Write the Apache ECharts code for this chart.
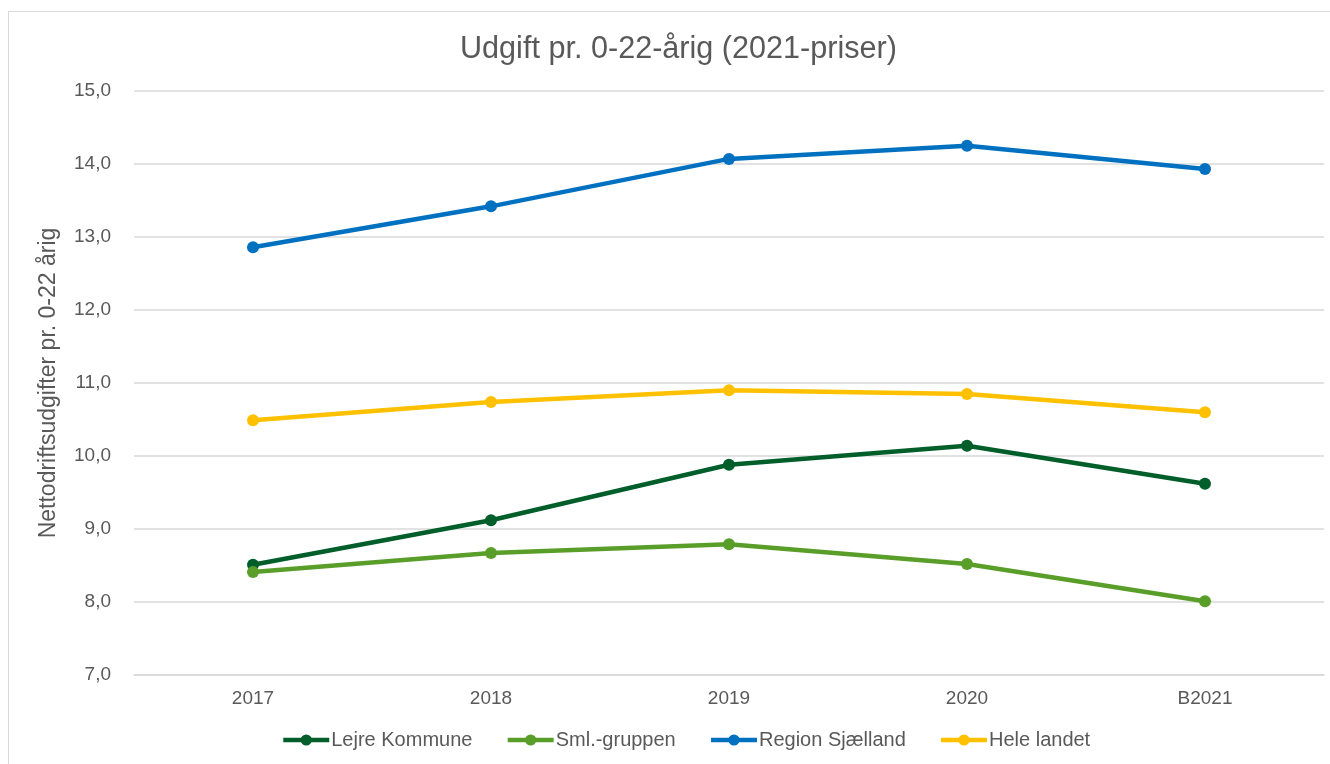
<!DOCTYPE html>
<html>
<head>
<meta charset="utf-8">
<script src="https://cdn.jsdelivr.net/npm/echarts@6/dist/echarts.min.js"></script>
<style>
    html, body { margin: 0; padding: 0; background: #fff; overflow: hidden; }
    #frame { position: absolute; left: 8px; top: 11px; width: 1340px; height: 800px; border: 1px solid #D9D9D9; box-sizing: border-box; }
    #chart { position: absolute; left: 0; top: 0; width: 1330px; height: 764px; }
</style>
</head>
<body>
<div id="frame"></div>
<div id="chart"></div>
<script>
var years = ['2017', '2018', '2019', '2020', 'B2021'];

var lejre = [8.51, 9.12, 9.88, 10.14, 9.62];
var smlGruppen = [8.41, 8.67, 8.79, 8.52, 8.01];
var regionSjaelland = [12.86, 13.42, 14.07, 14.25, 13.93];
var heleLandet = [10.49, 10.74, 10.90, 10.85, 10.60];

var seriesNames = ['Lejre Kommune', 'Sml.-gruppen', 'Region Sjælland', 'Hele landet'];
var seriesColors = ['#005E2B', '#5A9E2A', '#0070C0', '#FFC000'];

var font = '"Liberation Sans", Arial, sans-serif';
var textColor = '#595959';

function makeLine(name, data, color) {
    return {
        name: name,
        type: 'line',
        data: data,
        symbol: 'circle',
        symbolSize: 12,
        lineStyle: { width: 4.5, color: color },
        itemStyle: { color: color },
        emphasis: { disabled: true }
    };
}

var myChart = echarts.init(document.getElementById('chart'));

var option = {
    animation: false,
    title: {
        text: 'Udgift pr. 0-22-årig (2021-priser)',
        left: 455,
        top: 29,
        textStyle: {
            color: textColor,
            fontSize: 30.6,
            fontWeight: 'normal',
            fontFamily: font
        }
    },
    legend: {
        bottom: 9,
        left: 276,
        itemWidth: 46,
        itemHeight: 14,
        itemGap: 33,
        data: seriesNames,
        lineStyle: { width: 4.5 },
        textStyle: {
            color: textColor,
            fontSize: 20,
            fontFamily: font,
            padding: [0, 0, 0, -3]
        }
    },
    grid: {
        left: 134,
        right: 6,
        top: 91,
        bottom: 89
    },
    xAxis: {
        type: 'category',
        data: years,
        boundaryGap: true,
        axisLine: { lineStyle: { color: '#D9D9D9', width: 1.5 } },
        axisTick: { show: false },
        axisLabel: {
            color: textColor,
            fontSize: 19,
            fontFamily: font,
            margin: 14
        }
    },
    yAxis: {
        type: 'value',
        min: 7,
        max: 15,
        interval: 1,
        name: 'Nettodriftsudgifter pr. 0-22 årig',
        nameLocation: 'middle',
        nameGap: 74,
        nameTextStyle: {
            color: textColor,
            fontSize: 23,
            fontFamily: font
        },
        axisLine: { show: false },
        axisTick: { show: false },
        splitLine: { lineStyle: { color: '#D9D9D9', width: 1.5 } },
        axisLabel: {
            color: textColor,
            fontSize: 19,
            fontFamily: font,
            margin: 23,
            formatter: function (val) {
                return val.toFixed(1).replace('.', ',');
            }
        }
    },
    series: [
        makeLine(seriesNames[0], lejre, seriesColors[0]),
        makeLine(seriesNames[1], smlGruppen, seriesColors[1]),
        makeLine(seriesNames[2], regionSjaelland, seriesColors[2]),
        makeLine(seriesNames[3], heleLandet, seriesColors[3])
    ]
};

myChart.setOption(option);
</script>
</body>
</html>
